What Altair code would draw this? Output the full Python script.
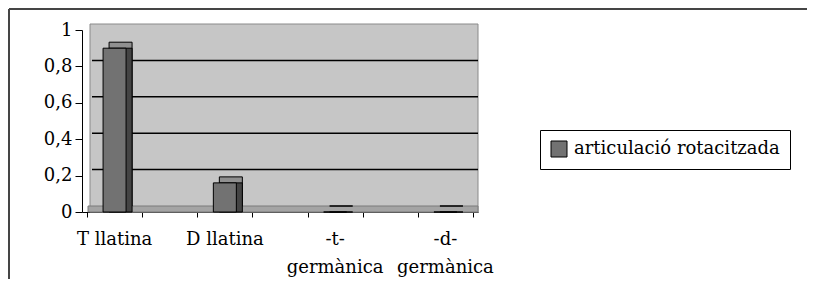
import altair as alt
import pandas as pd

# ---- data ----
categories = ["T llatina", "D llatina", "-t-\ngermànica", "-d-\ngermànica"]
values = [0.9, 0.16, 0.0, 0.0]
series_name = "articulació rotacitzada"
y_ticks = [0, 0.2, 0.4, 0.6, 0.8, 1.0]
x_ticks = [0, 1, 2, 3, 4, 5, 6, 7]
grid_values = [0.2, 0.4, 0.6, 0.8]

W, H = 396, 182
PAD = {"left": 74, "top": 22, "right": 329, "bottom": 67}
FONT = "DejaVu Serif"
D = 6  # 3D depth in pixels

bars_df = pd.DataFrame({
    "cat": categories,
    "pos": [2 * i + 0.5 for i in range(len(categories))],
    "value": values,
    "serie": [series_name] * len(categories),
})
wall_df = pd.DataFrame({"x0": [x_ticks[0]], "x1": [x_ticks[-1]], "y0": [0.0], "y1": [1.0]})
grid_df = pd.DataFrame({"v": grid_values, "x0": x_ticks[0], "x1": x_ticks[-1]})
one = pd.DataFrame({"a": [0]})

xscale = alt.Scale(domain=[x_ticks[0], x_ticks[-1]], nice=False, zero=False)
yscale = alt.Scale(domain=[0, 1], nice=False)

x_axis = alt.Axis(values=x_ticks, labels=False, title=None, grid=False,
                  domainColor="black", tickColor="black", tickSize=5)
y_axis = alt.Axis(values=y_ticks, title=None, grid=False,
                  labelExpr="replace(format(datum.value, '.1~f'), '.', ',')",
                  labelFont=FONT, labelFontSize=18, labelColor="black",
                  tickSize=7, tickColor="black", domainColor="black", labelPadding=3)


def X(field):
    return alt.X(field, scale=xscale, axis=x_axis)


def Y(field):
    return alt.Y(field, scale=yscale, axis=y_axis)


wall = alt.Chart(wall_df).mark_rect(
    fill="#c6c6c6", stroke="#8a8a8a", strokeWidth=1,
    xOffset=3, x2Offset=D - 1, y2Offset=-D
).encode(x=X("x0:Q"), x2="x1:Q", y=Y("y0:Q"), y2="y1:Q")

floor = alt.Chart(wall_df).mark_rect(
    fill="#a4a4a4", stroke="#7a7a7a", strokeWidth=1,
    xOffset=1, x2Offset=D - 1, y2Offset=-D
).encode(x=X("x0:Q"), x2="x1:Q", y=Y("y0:Q"), y2="y0:Q")

grid = alt.Chart(grid_df).mark_rule(
    color="black", strokeWidth=1.5, xOffset=D - 1, x2Offset=D - 1, yOffset=-D, y2Offset=-D
).encode(x=X("x0:Q"), x2="x1:Q", y=Y("v:Q"))

top_face = alt.Chart(bars_df).mark_bar(
    size=23, color="#909090", stroke="black", strokeWidth=1,
    xOffset=D, yOffset=-D, y2Offset=-D
).encode(x=X("pos:Q"), y=Y("value:Q"))

side_face = alt.Chart(bars_df).mark_bar(
    size=23, color="#444444", stroke="black", strokeWidth=1,
    xOffset=D, y2Offset=-D
).encode(x=X("pos:Q"), y=Y("value:Q"))

front = alt.Chart(bars_df).mark_bar(
    size=23, stroke="black", strokeWidth=1, opacity=1
).encode(
    x=X("pos:Q"),
    y=Y("value:Q"),
    color=alt.Color("serie:N", scale=alt.Scale(range=["#727272"]),
                    legend=alt.Legend(orient="none", legendX=458, legendY=100,
                                      title=None, strokeColor="black", padding=10,
                                      fillColor="white", symbolType="square",
                                      symbolSize=256, symbolStrokeColor="black",
                                      symbolStrokeWidth=1, symbolOpacity=1,
                                      labelFont=FONT, labelFontSize=18,
                                      labelLimit=0,
                                      labelColor="black", labelOffset=6)),
)

labels = alt.Chart(bars_df).mark_text(
    font=FONT, fontSize=18, baseline="alphabetic", align="center",
    lineBreak="\n", lineHeight=28, color="black"
).encode(
    x=X("pos:Q"),
    y=alt.value(H + 33),
    text="cat:N",
)

left_border = alt.Chart(one).mark_rule(color="#454545", strokeWidth=2).encode(
    x=alt.value(-PAD["left"] + 1), y=alt.value(-PAD["top"] + 1), y2=alt.value(H + PAD["bottom"])
)
top_border = alt.Chart(one).mark_rule(color="#454545", strokeWidth=2).encode(
    x=alt.value(-PAD["left"] + 1), x2=alt.value(W + PAD["right"]), y=alt.value(-PAD["top"] + 1)
)

chart = alt.layer(
    wall, floor, grid, top_face, side_face, front, labels, left_border, top_border
).properties(
    width=W, height=H,
    autosize=alt.AutoSizeParams(type="none"),
    padding=PAD,
    background="white",
).configure_view(strokeWidth=0)

chart.save("out.html", embed_options={"renderer": "svg", "actions": False})
